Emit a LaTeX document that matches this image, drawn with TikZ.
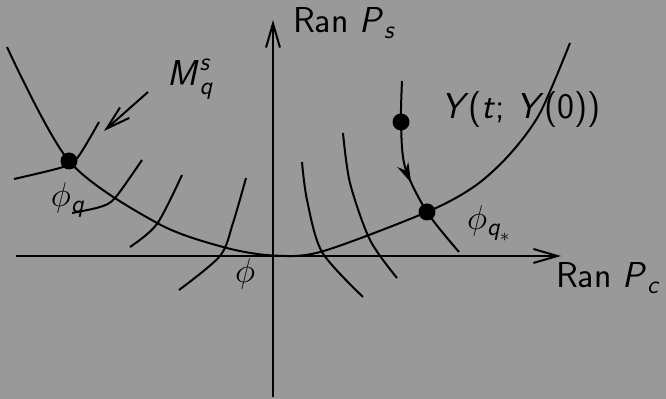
\documentclass[tikz,border=0pt]{standalone}
\usepackage{amsmath}
\usepackage{tikz}
\usetikzlibrary{arrows.meta,decorations.markings}
\definecolor{PlotBack}{HTML}{999999}
\newcommand{\sfit}[1]{\textsf{\textit{#1}}}

\begin{document}
\begin{tikzpicture}[x=0.5pt,y=0.5pt,line width=1pt,
  dot/.style={circle,fill=black,inner sep=0pt,minimum size=8.5pt},
  lbl/.style={anchor=base west,inner sep=0pt,font=\fontsize{18}{22}\selectfont},
  barb/.style={-{Straight Barb[length=12pt,width=7pt]}},
  traj/.style={postaction={decorate},decoration={markings,
    mark=at position 0.55 with {\arrow{Stealth[length=10pt,width=6pt]}}}}]
\fill[PlotBack] (0,0) rectangle (666,399);
\path[use as bounding box] (0,0) rectangle (666,399);
% axes
\coordinate (cl) at (16,143);
\coordinate (cr) at (561,143);
\coordinate (sb) at (273,2);
\coordinate (st) at (273,379);
\draw[barb] (cl) -- (cr);
\draw[barb] (sb) -- (st);
\node[lbl] (ranps) at (292,366) {\sffamily Ran $\sfit{P}_{\sfit{s}}$};
\node[lbl] (ranpc) at (555,111) {\sffamily Ran $\sfit{P}_{\sfit{c}}$};
% centre manifold
\draw plot[smooth] coordinates {(7,352) (69,238) (157,176) (223,152) (273,143.5)
  (322,147.5) (427,187) (475,213) (510,245) (540,286) (570,356)};
% stable fibres
\draw plot[smooth] coordinates {(14,220) (63,232) (78,242) (99,277)};
\draw plot[smooth] coordinates {(72,186) (100,192) (115,201) (142,239)};
\draw plot[smooth] coordinates {(130,152) (157,175) (182,224)};
\draw plot[smooth] coordinates {(179,109) (220,143) (233,176) (246,221)};
\draw plot[smooth] coordinates {(302,237) (307,199) (322,147) (363,102)};
\draw plot[smooth] coordinates {(343,266) (350,216) (370,159) (397,121)};
% trajectory
\draw[traj] plot[smooth] coordinates {(402,318) (401,277) (405,232) (427,187) (459,147)};
\node[dot] (qdot) at (69,238) {};
\node[dot] (ydot) at (401,277) {};
\node[dot] (qsdot) at (427,187) {};
% labels
\node[lbl] (mqs) at (167,313) {$\sfit{M}^{\sfit{s}}_{\sfit{q}}$};
\coordinate (mtail) at (148,307);
\coordinate (mtip) at (104,268);
\draw[barb] (mtail) -- (mtip);
\node[lbl] (ylab) at (440,280) {\textsf{\textit{Y}(\textit{t}; \textit{Y}(0))}};
\node[lbl] (phiq) at (50,192) {$\phi_{\sfit{q}}$};
\node[lbl] (phiqs) at (466,169) {$\phi_{\sfit{q}_*}$};
\node[lbl] (phi0) at (234,116) {$\phi$};
\end{tikzpicture}
\end{document}
